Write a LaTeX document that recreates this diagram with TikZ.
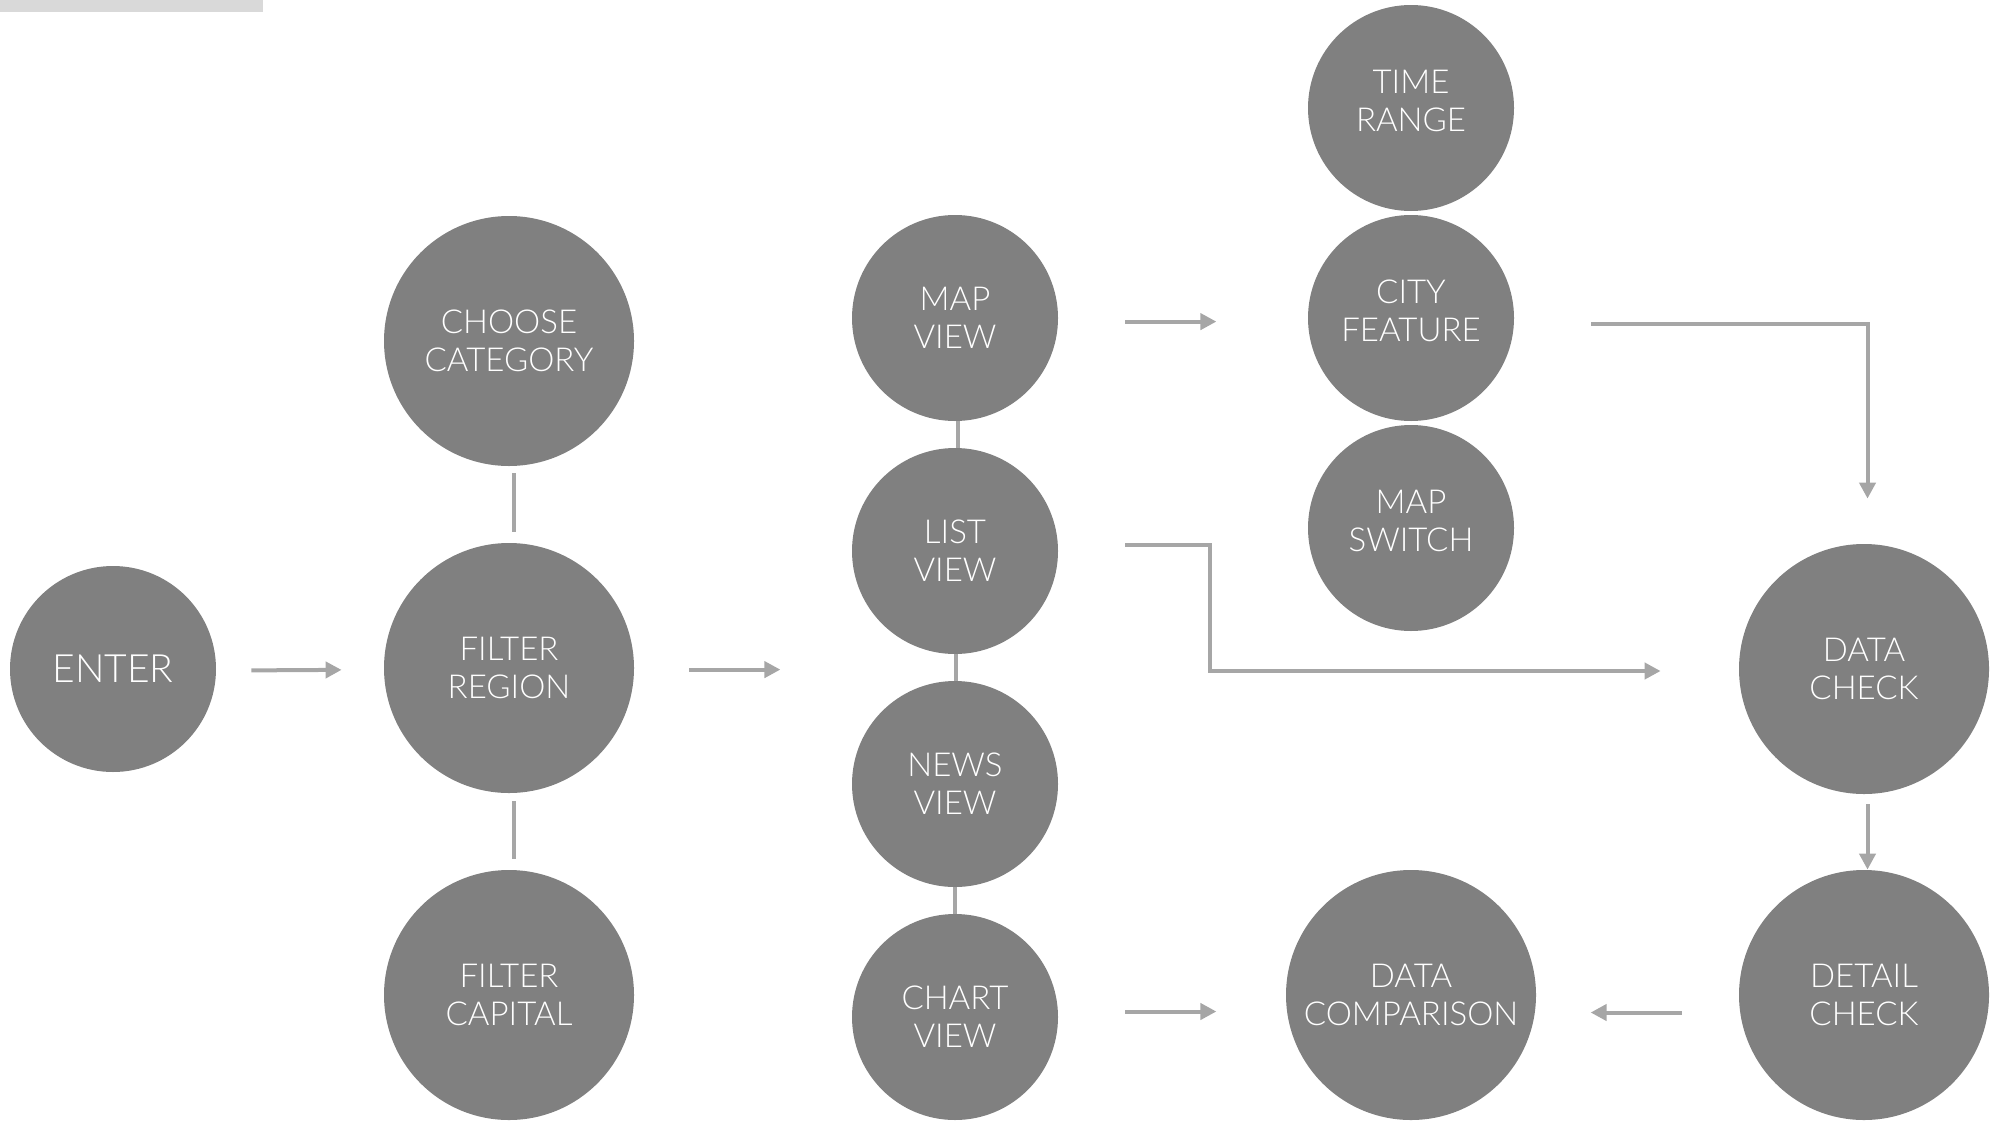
\documentclass[tikz,border=0pt]{standalone}
\usepackage{fontspec}
\setmainfont{Lato}[UprightFont=* Light]
\usetikzlibrary{arrows.meta}
\definecolor{circ}{RGB}{128,128,128}
\definecolor{linec}{RGB}{166,166,166}
\definecolor{barc}{RGB}{217,217,217}
\tikzset{
  bub/.style={circle, fill=circ, text=white, align=center, inner sep=0pt,
    font=\fontsize{16.5}{19}\selectfont},
  smallbub/.style={bub, minimum size=103pt},
  bigbub/.style={bub, minimum size=125pt},
  raisedtext/.style={text depth=7pt},
  conn/.style={draw=linec, line width=2pt},
  arr/.style={conn, -{Triangle[length=8pt,width=8pt]}},
}
\begin{document}
\begin{tikzpicture}[x=0.5pt,y=-0.5pt]
\useasboundingbox (0,0) rectangle (1995,1124);
\fill[barc] (0,0) rectangle (263,12);

\node[smallbub, font=\fontsize{19.5}{22}\selectfont] (enter) at (113,669) {ENTER};
\node[bigbub] (choose) at (509,341) {CHOOSE\\CATEGORY};
\node[bigbub] (fregion) at (509,668) {FILTER\\REGION};
\node[bigbub] (fcapital) at (509,995) {FILTER\\CAPITAL};
\node[smallbub] (mapv) at (955,318) {MAP\\VIEW};
\node[smallbub] (listv) at (955,551) {LIST\\VIEW};
\node[smallbub] (newsv) at (955,784) {NEWS\\VIEW};
\node[smallbub, text depth=-3pt] (chartv) at (955,1017) {CHART\\VIEW};
\node[smallbub, raisedtext] (timer) at (1411,108) {TIME\\RANGE};
\node[smallbub, raisedtext] (cityf) at (1411,318) {CITY\\FEATURE};
\node[smallbub, raisedtext] (maps) at (1411,528) {MAP\\SWITCH};
\node[bigbub] (datac) at (1864,669) {DATA\\CHECK};
\node[bigbub] (detailc) at (1864,995) {DETAIL\\CHECK};
\node[bigbub] (datacomp) at (1411,995) {DATA\\COMPARISON};

% left connectors
\draw[arr, shorten <=17.5pt, shorten >=21pt] ([yshift=-0.8pt]enter.east) -- ([yshift=-0.8pt]fregion.west);
\draw[arr] ([xshift=27.5pt,yshift=-0.8pt]fregion.east) -- ++(91,0);
\draw[conn, shorten <=3.5pt, shorten >=5.5pt] ([xshift=2.5pt]choose.south) -- ([xshift=2.5pt]fregion.north);
\draw[conn, shorten <=4pt, shorten >=5.5pt] ([xshift=2.5pt]fregion.south) -- ([xshift=2.5pt]fcapital.north);

% middle column
\draw[conn] ([xshift=1.5pt]mapv.south) -- ([xshift=1.5pt]listv.north);
\draw[conn] ([xshift=0.5pt]listv.south) -- ([xshift=0.5pt]newsv.north);
\draw[conn] (newsv.south) -- (chartv.north);

% to the right
\draw[arr] ([xshift=33.5pt,yshift=-1.8pt]mapv.east) -- ++(91,0);
\draw[arr] ([xshift=33.5pt,yshift=3pt]listv.east) -- ++(85,0) |- ([xshift=-39pt,yshift=-1pt]datac.west);
\draw[arr] ([xshift=33.5pt,yshift=2.75pt]chartv.east) -- ++(91,0);
\draw[arr, shorten >=22.5pt] ([xshift=38.5pt,yshift=-3pt]cityf.east) -| ([xshift=1.75pt]datac.north);
\draw[arr, shorten <=5pt] ([xshift=1.75pt]datac.south) -- ([xshift=1.75pt]detailc.north);
\draw[arr] ([xshift=-28.5pt,yshift=-8.75pt]detailc.west) -- ++(-91,0);
\end{tikzpicture}
\end{document}
